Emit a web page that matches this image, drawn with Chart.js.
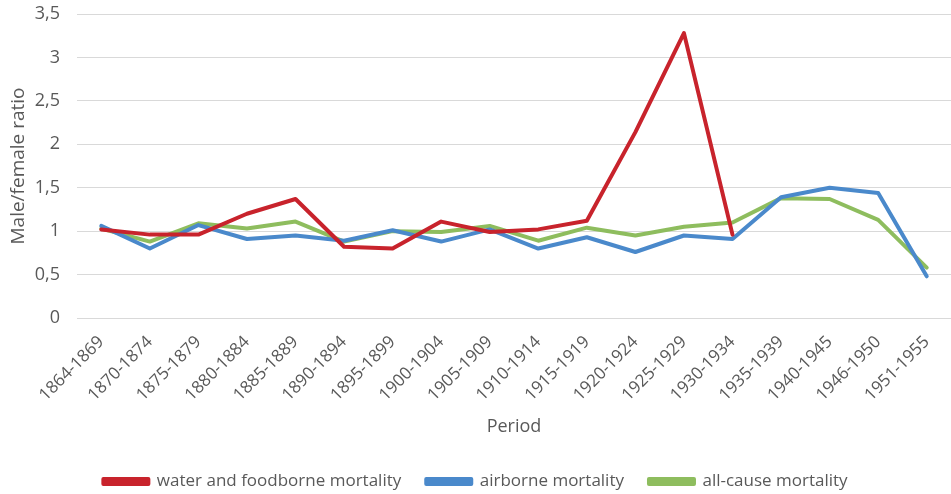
<!DOCTYPE html>
<html lang="en">
<head>
    <meta charset="UTF-8">
    <script src="https://cdn.jsdelivr.net/npm/chart.js"></script>
    <title>Male/female ratio</title>
    <style>
        html, body { margin: 0; padding: 0; background: #fff; }
        #wrap { width: 951px; height: 494px; }
    </style>
</head>
<body>
    <div id="wrap"><canvas id="ratioChart" width="951" height="494"></canvas></div>
    <script>
        const periods = ['1864-1869', '1870-1874', '1875-1879', '1880-1884', '1885-1889', '1890-1894',
            '1895-1899', '1900-1904', '1905-1909', '1910-1914', '1915-1919', '1920-1924',
            '1925-1929', '1930-1934', '1935-1939', '1940-1945', '1946-1950', '1951-1955'];
        const waterFood = [1.02, 0.96, 0.96, 1.20, 1.37, 0.82, 0.80, 1.11, 0.99, 1.02, 1.12, 2.14,
            3.28, 0.96, null, null, null, null];
        const airborne = [1.06, 0.80, 1.07, 0.91, 0.95, 0.89, 1.01, 0.88, 1.02, 0.80, 0.93, 0.76,
            0.95, 0.91, 1.39, 1.50, 1.44, 0.48];
        const allCause = [1.03, 0.88, 1.09, 1.03, 1.11, 0.88, 1.00, 0.99, 1.06, 0.89, 1.04, 0.95,
            1.05, 1.10, 1.38, 1.37, 1.13, 0.58];

        const grey = '#595959';
        const font = "'Open Sans', 'Noto Sans', sans-serif";

        // keep the legend box a fixed height so the row sits near the bottom edge
        const legendHeight = {
            id: 'legendHeight',
            beforeLayout: function (chart) {
                const lg = chart.legend;
                if (lg && !lg._fixed) {
                    const fit = lg.fit;
                    lg.fit = function () { fit.call(this); this.height = 46; };
                    lg._fixed = true;
                }
            }
        };

        const ctx = document.getElementById('ratioChart').getContext('2d');
        const ratioChart = new Chart(ctx, {
            type: 'line',
            data: {
                labels: periods,
                datasets: [{
                    label: 'water and foodborne mortality',
                    data: waterFood,
                    borderColor: '#C8232C',
                    backgroundColor: '#C8232C',
                    borderWidth: 4
                }, {
                    label: 'airborne mortality',
                    data: airborne,
                    borderColor: '#4A89CB',
                    backgroundColor: '#4A89CB',
                    borderWidth: 4
                }, {
                    label: 'all-cause mortality',
                    data: allCause,
                    borderColor: '#8EBD5E',
                    backgroundColor: '#8EBD5E',
                    borderWidth: 4
                }]
            },
            plugins: [legendHeight],
            options: {
                responsive: false,
                animation: false,
                spanGaps: false,
                elements: {
                    point: { radius: 0 },
                    line: { tension: 0, borderJoinStyle: 'round', borderCapStyle: 'round' }
                },
                layout: { padding: 0 },
                plugins: {
                    legend: {
                        position: 'bottom',
                        labels: {
                            color: grey,
                            font: { family: font, size: 17 },
                            boxWidth: 45,
                            boxHeight: 5,
                            padding: 25
                        }
                    },
                    tooltip: { enabled: false }
                },
                scales: {
                    x: {
                        offset: true,
                        afterFit: function (scale) {
                            scale.height = 130;
                            scale.paddingRight = 0;
                        },
                        grid: { display: false, drawTicks: false },
                        border: { display: false },
                        ticks: {
                            color: grey,
                            font: { family: font, size: 17 },
                            minRotation: 45,
                            maxRotation: 45,
                            padding: 14
                        },
                        title: {
                            display: true,
                            text: 'Period',
                            color: grey,
                            font: { family: font, size: 18 },
                            padding: { top: 0, bottom: 10 }
                        }
                    },
                    y: {
                        min: 0,
                        max: 3.5,
                        afterFit: function (scale) {
                            scale.width = 77;
                            scale.paddingTop = 14;
                        },
                        grid: { color: '#d9d9d9', lineWidth: 1, drawTicks: false },
                        border: { display: false },
                        ticks: {
                            stepSize: 0.5,
                            color: grey,
                            padding: 17,
                            font: { family: font, size: 18 },
                            callback: function (v) { return String(v).replace('.', ','); }
                        },
                        title: {
                            display: true,
                            text: 'Male/female ratio',
                            color: grey,
                            font: { family: font, size: 19 },
                            padding: { top: 7, bottom: 7 }
                        }
                    }
                }
            }
        });
    </script>
</body>
</html>
